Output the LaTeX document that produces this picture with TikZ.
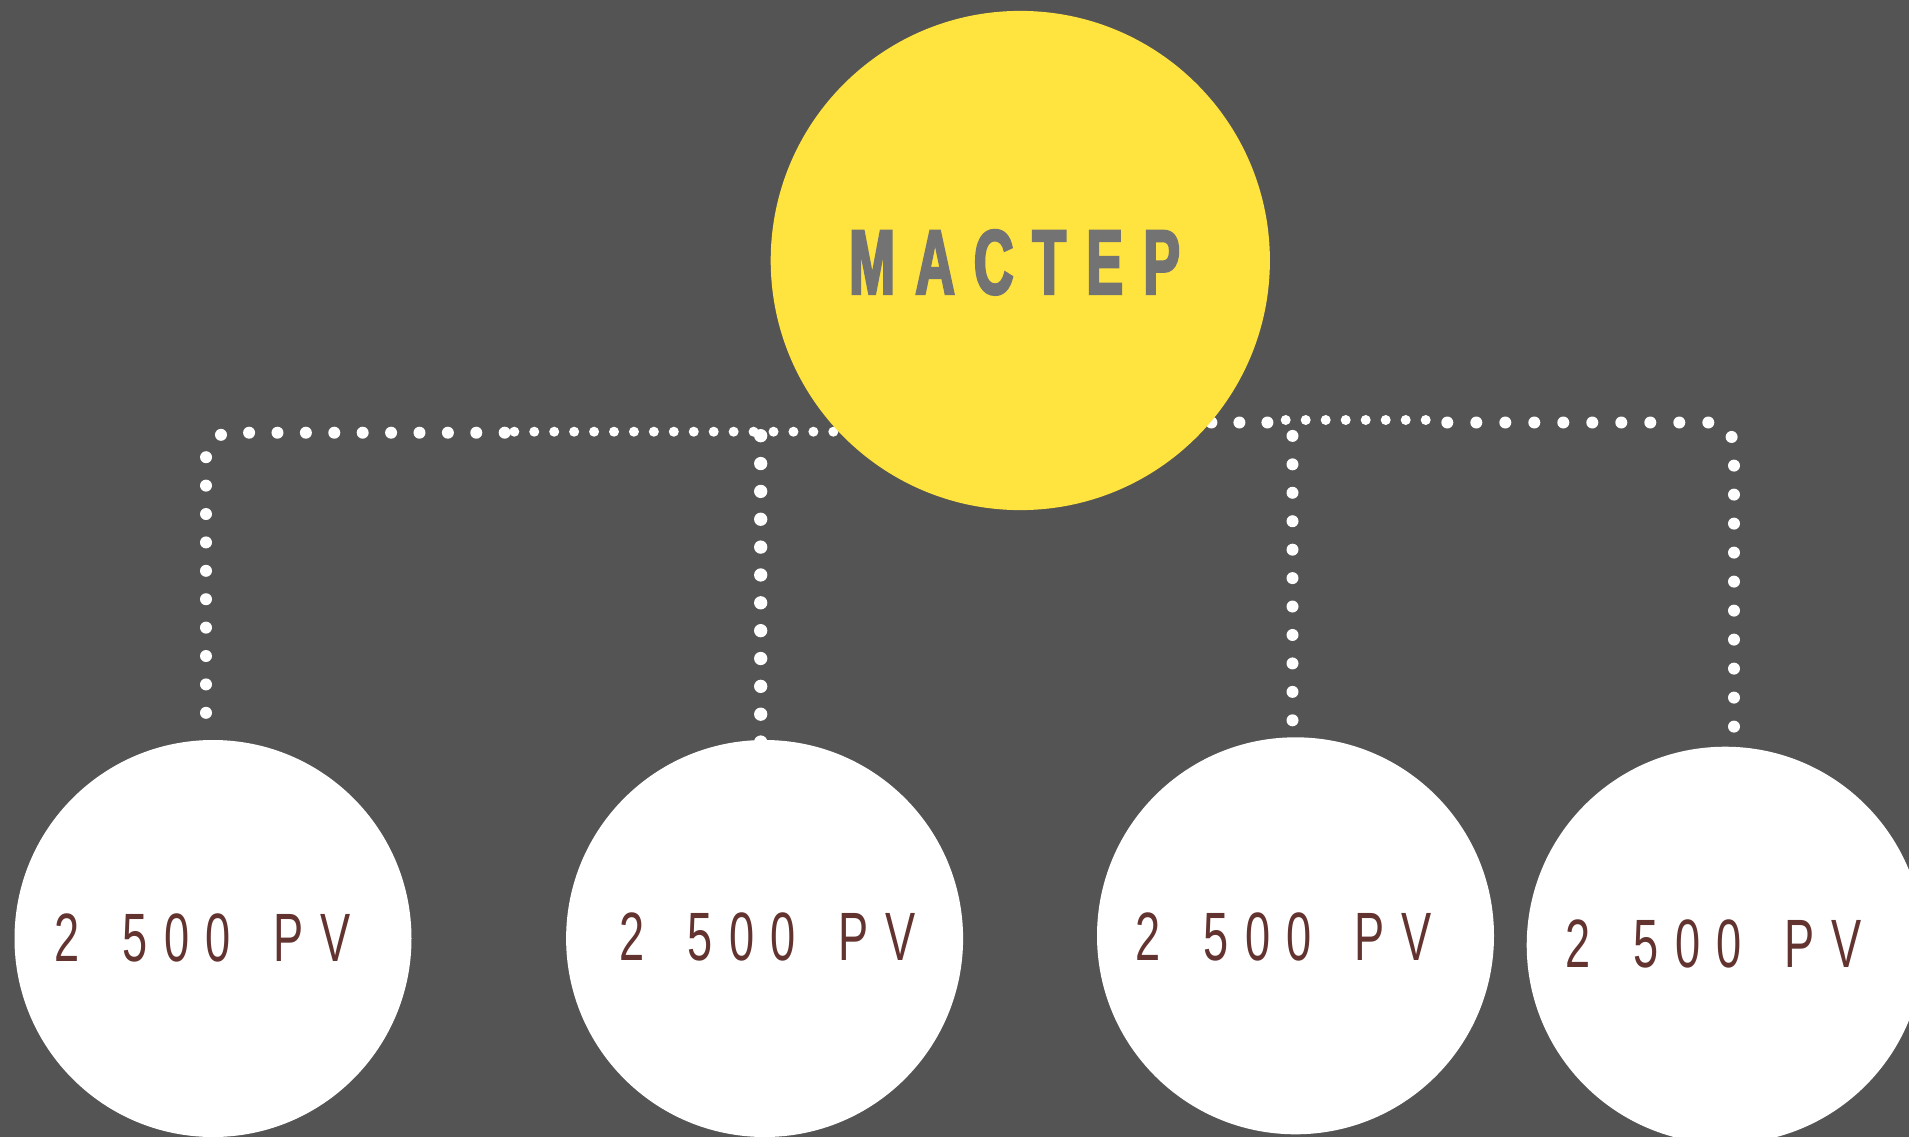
\documentclass[tikz,border=0pt]{standalone}
\usepackage{fontspec}
\newfontfamily\pvfont[FakeStretch=0.66,LetterSpace=24]{Liberation Sans}
\newfontfamily\mfont[FakeStretch=0.6,LetterSpace=22,FakeBold=2.5]{Liberation Sans}
\newcommand\gapsp{\hspace{14pt}}
\definecolor{bgc}{HTML}{545454}
\definecolor{mastery}{HTML}{FFE33E}
\definecolor{mastert}{HTML}{737373}
\definecolor{pvc}{HTML}{633330}
\pgfdeclarelayer{back}
\pgfdeclarelayer{conn}
\pgfsetlayers{back,conn,main}
\begin{document}
\begin{tikzpicture}[x=1pt,y=-1pt,
  mastercirc/.style={circle,fill=mastery,inner sep=0pt,minimum size=499.2pt},
  pvcirc/.style={circle,fill=white,inner sep=0pt,minimum size=397pt},
  mlabel/.style={anchor=base west,inner sep=0pt,text=mastert,font=\mfont\bfseries\fontsize{91.8pt}{92pt}\selectfont},
  pvlabel/.style={anchor=base west,inner sep=0pt,text=pvc,font=\pvfont\fontsize{68.4pt}{70pt}\selectfont},
  dotline/.style 2 args={draw=white,line width=#1,line cap=round,dash pattern=on 0pt off #2},
]
\useasboundingbox (0,0) rectangle (1909,1137);
\begin{pgfonlayer}{back}
\fill[bgc] (0,0) rectangle (1909,1137);
\end{pgfonlayer}
% nodes
\node[mastercirc] (m) at (1020.3,260.5) {};
\node[pvcirc] (c1) at (213,938.5) {};
\node[pvcirc] (c2) at (764.6,938.5) {};
\node[pvcirc] (c3) at (1295.5,935.8) {};
\node[pvcirc] (c4) at (1725.2,945.2) {};
\node[mlabel] (mt) at (849,294) {МАСТЕР};
\node[pvlabel] (t1) at (54.6,961) {2 \gapsp500 \gapsp PV};
\node[pvlabel] (t2) at (619.6,960.6) {2 \gapsp500 \gapsp PV};
\node[pvlabel] (t3) at (1135.6,960.6) {2 \gapsp500 \gapsp PV};
\node[pvlabel] (t4) at (1565.3,967.3) {2 \gapsp500 \gapsp PV};
% junctions
\coordinate (jl1) at (505,432.7);
\coordinate (jl2) at (514.3,431.7);
\coordinate (jv2) at (760.7,435.7);
\coordinate (jr1) at (1446.6,422.5);
\coordinate (jr2) at (1425.7,420);
\coordinate (jr3) at (1285.2,420);
\coordinate (jr4) at (1267.4,422.5);
\coordinate (jr5) at (1292.5,435.9);
% connectors
\begin{pgfonlayer}{conn}
\draw[dotline={12pt}{28.4pt},rounded corners=25pt] ([xshift=-7pt,yshift=27pt]c1.north) |- (jl1);
\draw[dotline={10pt}{19.94pt}] (jl2) -- (jl2 -| m);
\draw[dotline={13.3pt}{27.85pt}] (jv2) -- ([xshift=-3.9pt,yshift=-4pt]c2.north);
\draw[dotline={12pt}{29pt},rounded corners=25pt] ([xshift=8.8pt,yshift=-9.1pt]c4.north) |- (jr1);
\draw[dotline={10pt}{20pt}] (jr2) -- (jr3);
\draw[dotline={12pt}{28pt}] (jr4) -- (jr4 -| m);
\draw[dotline={12pt}{28.44pt}] (jr5) -- ([xshift=-3pt,yshift=-14.4pt]c3.north);
\end{pgfonlayer}
\end{tikzpicture}
\end{document}
